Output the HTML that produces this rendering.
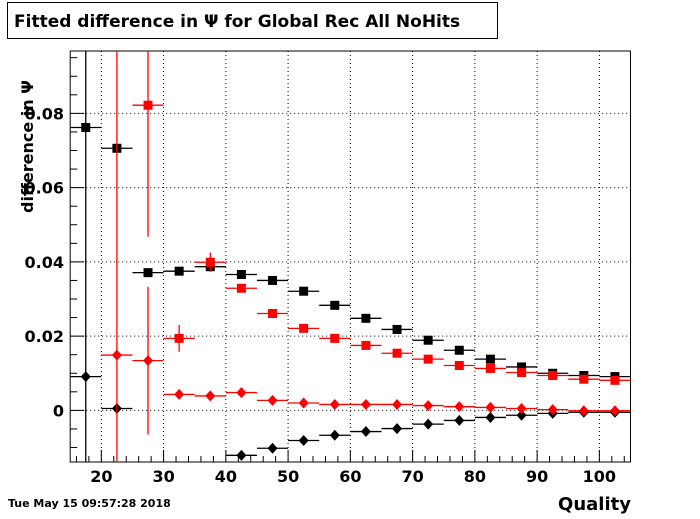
<!DOCTYPE html>
<html><head><meta charset="utf-8"><style>
body{margin:0;background:#fff;}
svg text{font-family:"DejaVu Sans","Liberation Sans",sans-serif;font-weight:bold;}
</style></head><body>
<svg id="chart" width="700" height="514" xmlns="http://www.w3.org/2000/svg">
<rect x="0" y="0" width="700" height="514" fill="#fff"/>
<g>
<rect x="7.5" y="2.5" width="490" height="36" fill="#fff" stroke="#000" stroke-width="1"/>
<text x="14" y="27" font-size="17">Fitted difference in  Ψ  for Global Rec All NoHits</text>
</g>
<g id="grid"></g>
<g id="axes"></g>
<g id="marks"></g>
<text x="631" y="510" font-size="18" text-anchor="end">Quality</text>
<text transform="translate(33,213) rotate(-90)" font-size="16">difference in  Ψ</text>
<text x="8" y="507" font-size="11">Tue May 15 09:57:28 2018</text>
</svg>
<script>
const binCenters=[17.5,22.5,27.5,32.5,37.5,42.5,47.5,52.5,57.5,62.5,67.5,72.5,77.5,82.5,87.5,92.5,97.5,102.5];
const blackSq=[0.0762,0.0706,0.0371,0.0375,0.0387,0.0366,0.035,0.0321,0.0283,0.0248,0.0218,0.0189,0.0162,0.0138,0.0117,0.0100,0.0094,0.0091];
const blackSqErr=[0,0,0.0012,0.0005,0.0005,0.0003,0,0,0,0,0,0,0,0,0,0,0,0];
const redSq=[null,null,0.0822,0.0194,0.0399,0.0329,0.0261,0.0221,0.0194,0.0175,0.0154,0.0138,0.0121,0.0113,0.0102,0.0094,0.0084,0.0081];
const redSqErr=[0,0,0.0354,0.0036,0.0026,0.0005,0,0,0,0,0,0,0,0,0,0,0,0];
const blackDia=[0.0091,0.0005,null,null,null,-0.0121,-0.0102,-0.0081,-0.0067,-0.0057,-0.0049,-0.0037,-0.0027,-0.0019,-0.0013,-0.0008,-0.0005,-0.0005];
const blackDiaErr=[1,0,0,0,0,0,0,0,0,0,0,0,0,0,0,0,0,0];
const redDia=[null,0.0149,0.0134,0.0043,0.0039,0.0048,0.0027,0.002,0.0016,0.0016,0.0016,0.0013,0.001,0.0008,0.0005,0.0002,-0.0001,-0.0001];
const redDiaErr=[0,1,0.0199,0.0008,0.0008,0.0003,0,0,0,0,0,0,0,0,0,0,0,0];
const xTicks=[20,30,40,50,60,70,80,90,100];
const yTicks=[0,0.02,0.04,0.06,0.08];
const yTickLabels=["0","0.02","0.04","0.06","0.08"];

const L=70.2,R=630.5,T=51,B=462;
const xMin=15,xMax=105,yMin=-0.0139,yMax=0.0968;
const X=v=>L+(v-xMin)/(xMax-xMin)*(R-L);
const Y=v=>B-(v-yMin)/(yMax-yMin)*(B-T);
const NS='http://www.w3.org/2000/svg';
function mk(tag,parent,attrs){const e=document.createElementNS(NS,tag);for(const k in attrs)e.setAttribute(k,attrs[k]);parent.appendChild(e);return e;}
const grid=document.getElementById('grid'),axes=document.getElementById('axes'),marks=document.getElementById('marks');
xTicks.forEach(v=>{const l=mk('line',grid,{x1:X(v),x2:X(v),y1:T,y2:B,stroke:'#000','stroke-width':1,'stroke-dasharray':'1,3'});

});
yTicks.forEach(v=>{const l=mk('line',grid,{x1:L,x2:R,y1:Y(v),y2:Y(v),stroke:'#000','stroke-width':1,'stroke-dasharray':'1,3'});

});
const frame=mk('rect',axes,{x:L,y:T,width:R-L,height:B-T,fill:'none',stroke:'#000','stroke-width':1});


for(let v=16;v<=104;v+=2){const maj=v%10===0;const t=mk('line',axes,{x1:X(v),x2:X(v),y1:B,y2:B-(maj?12:6),stroke:'#000'});

}
for(let i=-2;i<=19;i++){const v=i*0.005;if(v<yMin||v>yMax)continue;const maj=i%4===0;const t=mk('line',axes,{x1:L,x2:L+(maj?14:7),y1:Y(v),y2:Y(v),stroke:'#000'});

}
xTicks.forEach(v=>{const t=mk('text',axes,{x:X(v),y:482,'font-size':16,'text-anchor':'middle'});t.textContent=v;

});
yTicks.forEach((v,i)=>{const t=mk('text',axes,{x:64,y:Y(v)+6,'font-size':16,'text-anchor':'end'});t.textContent=yTickLabels[i];

});
function series(vals,errs,color,shape,name){
 const g=mk('g',marks,{});
 
 
 vals.forEach((v,i)=>{if(v===null)return;const cx=X(binCenters[i]),cy=Y(v);
  mk('line',g,{x1:X(binCenters[i]-2.5),x2:X(binCenters[i]+2.5),y1:cy,y2:cy,stroke:color,'stroke-width':1.3});
  if(errs[i]>0){mk('line',g,{x1:cx,x2:cx,y1:Math.max(T,Math.min(B,Y(v+errs[i]))),y2:Math.max(T,Math.min(B,Y(v-errs[i]))),stroke:color,'stroke-width':1.3});}
  let m;
  if(shape==='sq'){m=mk('rect',g,{x:cx-4.5,y:cy-4.5,width:9,height:9,fill:color});}
  else{m=mk('polygon',g,{points:`${cx},${cy-5.5} ${cx+5},${cy} ${cx},${cy+5.5} ${cx-5},${cy}`,fill:color});}
  
  
 });
}
series(blackSq,blackSqErr,'#000','sq','black-squares');
series(redSq,redSqErr,'#f00','sq','red-squares');
series(blackDia,blackDiaErr,'#000','dia','black-diamonds');
series(redDia,redDiaErr,'#f00','dia','red-diamonds');
</script>
</body></html>
